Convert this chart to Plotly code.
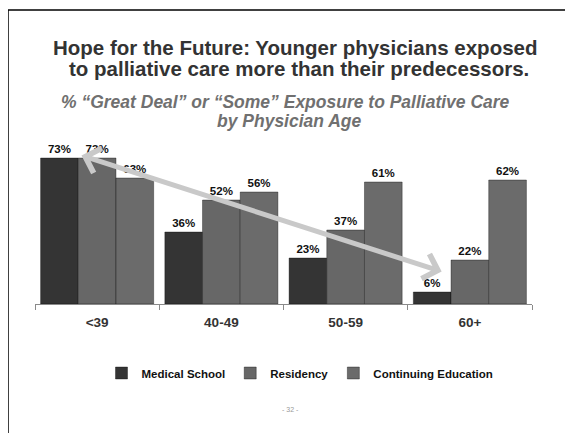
import plotly.graph_objects as go

categories = ["<39", "40-49", "50-59", "60+"]
medical_school = [73, 36, 23, 6]
residency = [73, 52, 37, 22]
continuing_ed = [63, 56, 61, 62]
series_names = ["Medical School", "Residency", "Continuing Education"]

OFF = 8  # page body margin
W, H = 573 - OFF, 433 - OFF
# plot area in screen pixels: x 35..532, y 144..304
L, R, T, B = 35 - OFF, W - (532 - OFF), 144 - OFF, H - (304 - OFF)
pw, ph = W - L - R, H - T - B

def px(x):  # screen x -> paper
    return (x - OFF - L) / pw

def py(y):  # screen y -> paper
    return (H - B - (y - OFF)) / ph

FONT = "Liberation Sans"
fig = go.Figure()
colors = ["#343434", "#676767", "#6b6b6b"]
for name, vals, col in zip(series_names, [medical_school, residency, continuing_ed], colors):
    fig.add_trace(go.Bar(
        x=categories, y=vals, name=f"<b>{name}</b>",
        marker=dict(color=col, line=dict(color="rgba(0,0,0,0.35)", width=1)),
        text=[f"{v}%" for v in vals], textposition="outside",
        textfont=dict(family=FONT, size=11.5, color="#111111"),
        texttemplate="<b>%{text}</b>", cliponaxis=False,
    ))

title_font = dict(family=FONT, size=20.5, color="#333333")
sub_font = dict(family=FONT, size=17.5, color="#707070")
annotations = [
    dict(text="<b>Hope for the Future: Younger physicians exposed</b>",
         x=px(295), y=py(47), xref="paper", yref="paper", showarrow=False,
         font=title_font, xanchor="center", yanchor="middle"),
    dict(text="<b>to palliative care more than their predecessors.</b>",
         x=px(299), y=py(68.5), xref="paper", yref="paper", showarrow=False,
         font=title_font, xanchor="center", yanchor="middle"),
    dict(text="<b><i>% \u201cGreat Deal\u201d or \u201cSome\u201d Exposure to Palliative Care</i></b>",
         x=px(285), y=py(101.5), xref="paper", yref="paper", showarrow=False,
         font=sub_font, xanchor="center", yanchor="middle"),
    dict(text="<b><i>by Physician Age</i></b>",
         x=px(289.5), y=py(121), xref="paper", yref="paper", showarrow=False,
         font=sub_font, xanchor="center", yanchor="middle"),
    dict(text="- 32 -", x=px(290), y=py(415), xref="paper", yref="paper", showarrow=False,
         font=dict(family=FONT, size=7, color="#999999")),
    # double-headed trend arrow
    dict(text="", x=2.773, y=16.2, ax=-0.138, ay=74.5, xref="x", yref="y", axref="x", ayref="y",
         showarrow=True, arrowhead=4, startarrowhead=4, arrowside="end+start",
         arrowsize=1.0, startarrowsize=1.0, arrowwidth=5, arrowcolor="#c9c9c9"),
]

shapes = [
    dict(type="line", xref="paper", yref="paper", x0=px(8), x1=px(573), y0=py(10), y1=py(10),
         line=dict(color="#000000", width=1.5)),
    dict(type="line", xref="paper", yref="paper", x0=px(8), x1=px(8), y0=py(10), y1=py(433),
         line=dict(color="#000000", width=1.5)),
]

fig.update_layout(
    width=W, height=H,
    margin=dict(l=L, r=R, t=T, b=B, pad=0),
    paper_bgcolor="white", plot_bgcolor="white",
    barmode="group", bargap=0.09, bargroupgap=0,
    showlegend=True,
    legend=dict(orientation="h", x=px(300), xanchor="center", y=py(373), yanchor="middle",
                font=dict(family=FONT, size=11.5, color="#111111"),
                itemwidth=30, traceorder="normal"),
    annotations=annotations, shapes=shapes,
    xaxis=dict(type="category", range=[-0.5, 3.5], showline=True, linecolor="#8a8a8a", linewidth=1,
               ticks="outside", tickson="boundaries", ticklen=5, tickcolor="#8a8a8a",
               tickfont=dict(family=FONT, size=13.5, color="#333333"),
               ticklabelstandoff=6,
               tickvals=categories, ticktext=[f"<b>{c}</b>" for c in categories],
               showgrid=False, fixedrange=True),
    yaxis=dict(range=[0, 80], visible=False, showgrid=False, zeroline=False),
)

fig.write_html("out.html")
